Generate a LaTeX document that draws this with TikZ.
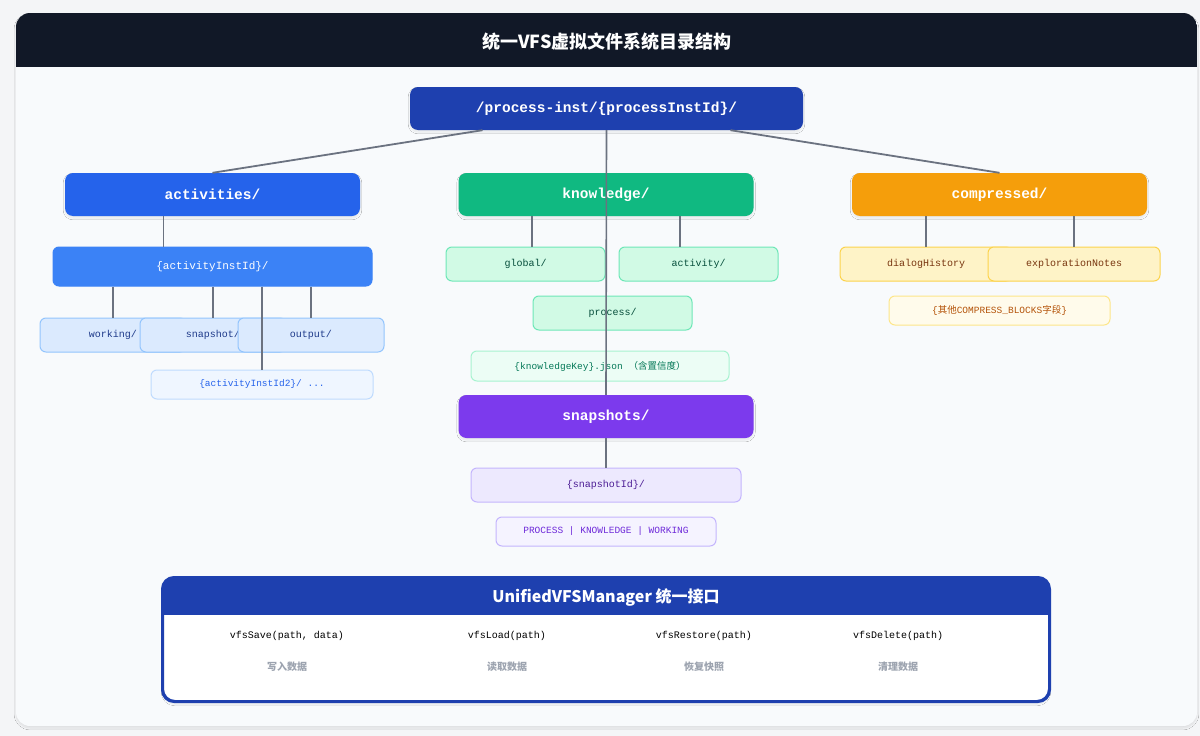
\documentclass[tikz,border=0pt]{standalone}
\usepackage{fontspec}
\setmonofont{Liberation Mono}
\newfontfamily\cjk{Noto Sans CJK SC}
\usetikzlibrary{shadows.blur}

\definecolor{pagebg}{HTML}{F4F5F7}
\definecolor{cardbg}{HTML}{F8FAFC}
\definecolor{headbg}{HTML}{111827}
\definecolor{rootblue}{HTML}{1E40AF}
\definecolor{actblue}{HTML}{2563EB}
\definecolor{aidblue}{HTML}{3B82F6}
\definecolor{knowgreen}{HTML}{10B981}
\definecolor{comporange}{HTML}{F59E0B}
\definecolor{snappurple}{HTML}{7C3AED}
\definecolor{linegray}{HTML}{6B7280}
\definecolor{descgray}{HTML}{9CA3AF}
% light boxes
\definecolor{bluefill}{HTML}{DBEAFE}
\definecolor{blueline}{HTML}{93C5FD}
\definecolor{bluetext}{HTML}{1E3A8A}
\definecolor{bluepale}{HTML}{EFF6FF}
\definecolor{bluepaleline}{HTML}{BFDBFE}
\definecolor{greenfill}{HTML}{D1FAE5}
\definecolor{greenline}{HTML}{6EE7B7}
\definecolor{greentext}{HTML}{064E3B}
\definecolor{greenpale}{HTML}{ECFDF5}
\definecolor{greenpaleline}{HTML}{A7F3D0}
\definecolor{greenpaletext}{HTML}{047857}
\definecolor{amberfill}{HTML}{FEF3C7}
\definecolor{amberline}{HTML}{FCD34D}
\definecolor{ambertext}{HTML}{78350F}
\definecolor{amberpale}{HTML}{FFFBEB}
\definecolor{amberpaleline}{HTML}{FDE68A}
\definecolor{amberpaletext}{HTML}{B45309}
\definecolor{purplefill}{HTML}{EDE9FE}
\definecolor{purpleline}{HTML}{C4B5FD}
\definecolor{purpletext}{HTML}{4C1D95}
\definecolor{purplepale}{HTML}{F5F3FF}
\definecolor{purplepaletext}{HTML}{6D28D9}

\tikzset{
  dirmain/.style={rounded corners=8pt, text=white, minimum width=295pt, minimum height=43pt,
    font=\ttfamily\bfseries\fontsize{14.5}{16}\selectfont,
    blur shadow={shadow xshift=0pt, shadow yshift=-2pt, shadow blur steps=8, shadow opacity=8}},
  dirsub/.style={rounded corners=6pt, draw, line width=1pt, minimum height=34pt,
    font=\ttfamily\fontsize{10}{12}\selectfont},
  bluebox/.style={dirsub, fill=bluefill, draw=blueline, text=bluetext, minimum width=146pt},
  greenbox/.style={dirsub, fill=greenfill, draw=greenline, text=greentext, minimum width=159pt},
  amberbox/.style={dirsub, fill=amberfill, draw=amberline, text=ambertext, minimum width=172pt},
  purplebox/.style={dirsub, fill=purplefill, draw=purpleline, text=purpletext},
  notebox/.style={dirsub, minimum height=29pt, font=\ttfamily\fontsize{9.5}{11}\selectfont},
  link/.style={draw=linegray, line width=1.3pt},
  trunk/.style={draw=linegray, line width=1.8pt},
}

\begin{document}
\begin{tikzpicture}[x=1pt, y=-1pt]
  \useasboundingbox (0,0) rectangle (1200,736);
  \fill[pagebg] (0,0) rectangle (1200,736);

  % card and header
  \fill[cardbg, rounded corners=14pt, blur shadow={shadow xshift=0pt, shadow yshift=-2pt, shadow blur steps=10, shadow opacity=10}]
    (16,13) rectangle (1197,726);
  \begin{scope}
    \clip[rounded corners=14pt] (16,13) rectangle (1197,726);
    \fill[headbg] (16,13) rectangle (1197,67);
  \end{scope}
  \node[text=white, font=\cjk\bfseries\fontsize{18}{20}\selectfont] (title) at (607,42) {统一VFS虚拟文件系统目录结构};

  % top level
  \node[dirmain, fill=rootblue, minimum width=393pt] (root) at (606.5,108.5) {/process-inst/\{processInstId\}/};
  \node[dirmain, fill=actblue] (act) at (212.5,194.5) {activities/};
  \node[dirmain, fill=knowgreen] (know) at (606,194.5) {knowledge/};
  \node[dirmain, fill=comporange] (comp) at (999.5,194.5) {compressed/};
  \node[dirmain, fill=snappurple] (snap) at (606,416.5) {snapshots/};

  % activities
  \node[dirsub, fill=aidblue, draw=aidblue, text=white, minimum width=319pt, minimum height=39pt,
    font=\ttfamily\fontsize{11}{13}\selectfont] (aid) at (212.5,266.5) {\{activityInstId\}/};
  \node[bluebox] (work) at (113,335) {working/};
  \node[bluebox] (snp) at (213,335) {snapshot/};
  \node[bluebox] (outp) at (311,335) {output/};
  \node[notebox, fill=bluepale, draw=bluepaleline, text=actblue, minimum width=222pt]
    (aid2) at (262,384.5) {\{activityInstId2\}/ ...};

  % knowledge
  \node[greenbox] (glob) at (525.5,264) {global/};
  \node[greenbox] (actk) at (698.5,264) {activity/};
  \node[greenbox] (proc) at (612.5,313) {process/};
  \node[notebox, fill=greenpale, draw=greenpaleline, text=greenpaletext, minimum width=258pt, minimum height=30pt]
    (kkey) at (600,366) {\{knowledgeKey\}.json {\cjk（含置信度）}};

  % compressed
  \node[amberbox] (dlg) at (926,264) {dialogHistory};
  \node[amberbox] (expl) at (1074,264) {explorationNotes};
  \node[notebox, fill=amberpale, draw=amberpaleline, text=amberpaletext, minimum width=221pt]
    (other) at (999.5,310.5) {\{{\cjk 其他}COMPRESS\_BLOCKS{\cjk 字段}\}};

  % snapshots
  \node[purplebox, minimum width=270pt] (sid) at (606,485) {\{snapshotId\}/};
  \node[notebox, fill=purplepale, draw=purpleline, text=purplepaletext, minimum width=220pt]
    (parts) at (606,531.5) {PROCESS | KNOWLEDGE | WORKING};

  % connectors
  \draw[trunk] ([xshift=-124pt]root.south) -- (act.north);
  \draw[trunk] ([xshift=124pt]root.south) -- (comp.north);
  \draw[link] ([xshift=-49pt]act.south) -- ([xshift=-49pt]aid.north);
  \draw[link] (aid.south -| work.north) -- (work.north);
  \draw[link] (aid.south -| snp.north) -- (snp.north);
  \draw[link] (aid.south -| outp.north) -- (outp.north);
  \draw[link] (aid.south -| aid2.north) -- (aid2.north);
  \draw[link] ([xshift=-74pt]know.south) -- ([xshift=6.5pt]glob.north);
  \draw[link] ([xshift=74pt]know.south) -- ([xshift=-18.5pt]actk.north);
  \draw[link] (comp.south -| dlg.north) -- (dlg.north);
  \draw[link] (comp.south -| expl.north) -- (expl.north);
  \draw[link] (snap.south) -- (sid.north);
  \draw[trunk, line width=1.6pt] (root.south) -- (snap.north);

  % manager interface
  \node[draw=rootblue, line width=2pt, fill=white, rounded corners=12pt, minimum width=886pt, minimum height=123pt,
    blur shadow={shadow xshift=0pt, shadow yshift=-3pt, shadow blur steps=8, shadow opacity=8}] (mgr) at (606,639.5) {};
  \begin{scope}
    \clip[rounded corners=12pt] (mgr.north west) rectangle (mgr.south east);
    \fill[rootblue] (mgr.north west) rectangle ([yshift=-38pt]mgr.north east);
  \end{scope}
  \draw[rootblue, line width=2pt, rounded corners=12pt] (mgr.north west) rectangle (mgr.south east);
  \node[text=white, font=\cjk\bfseries\fontsize{16}{18}\selectfont] (mgrtitle) at (606,597) {UnifiedVFSManager 统一接口};
  \foreach \x/\fn/\desc [count=\i] in {287/{vfsSave(path, data)}/写入数据, 507/{vfsLoad(path)}/读取数据,
      704/{vfsRestore(path)}/恢复快照, 898/{vfsDelete(path)}/清理数据} {
    \node[font=\ttfamily\fontsize{10}{12}\selectfont] (fn\i) at (\x,636) {\fn};
    \node[text=descgray, font=\cjk\bfseries\fontsize{10}{12}\selectfont] (desc\i) at (\x,667) {\desc};
  }
\end{tikzpicture}
\end{document}
